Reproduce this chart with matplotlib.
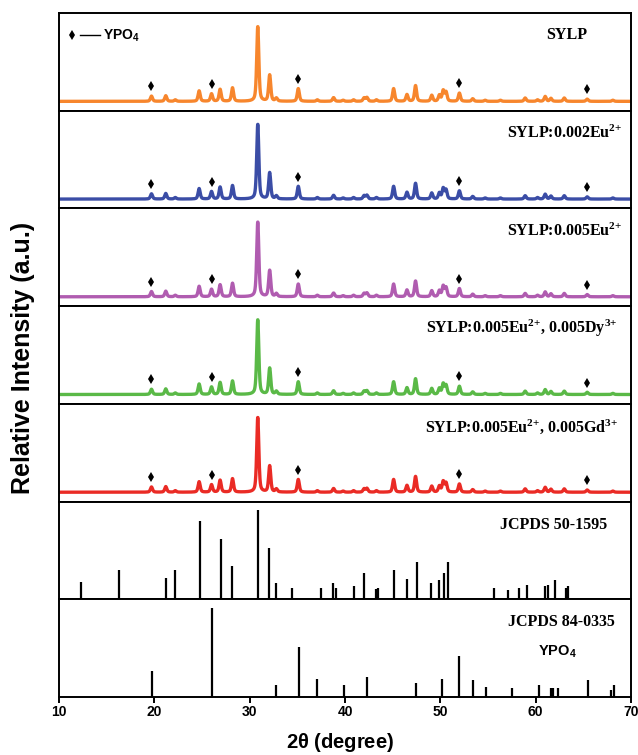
import numpy as np
import matplotlib
matplotlib.use("Agg")
from matplotlib import pyplot as plt

# XRD peak table of the SYLP phosphor (2theta, relative intensity)
peak_pos = [19.7, 21.2, 22.2, 24.7, 26.0, 26.9, 28.2, 30.85, 32.1, 32.8,
            35.1, 37.1, 38.8, 39.8, 40.9, 42.0, 42.3, 43.3, 45.1, 46.5,
            47.4, 49.1, 49.9, 50.3, 50.6, 52.0, 53.4, 54.7, 56.3, 58.9,
            60.2, 61.0, 61.6, 63.0, 65.4, 68.1]
peak_int = [0.07, 0.075, 0.02, 0.14, 0.10, 0.16, 0.18, 1.0, 0.35, 0.04,
            0.17, 0.02, 0.05, 0.015, 0.02, 0.045, 0.05, 0.02, 0.17, 0.09,
            0.21, 0.08, 0.08, 0.14, 0.12, 0.11, 0.035, 0.015, 0.015, 0.045,
            0.02, 0.065, 0.04, 0.045, 0.03, 0.015]

samples = ["SYLP",
           r"SYLP:0.002Eu$^{2{+}}$",
           r"SYLP:0.005Eu$^{2{+}}$",
           r"SYLP:0.005Eu$^{2{+}}$, 0.005Dy$^{3{+}}$",
           r"SYLP:0.005Eu$^{2{+}}$, 0.005Gd$^{3{+}}$"]
sample_colors = ["#f7862d", "#3b4da6", "#b05cb0", "#5ab947", "#ea2b25"]
label_right = [65.4, 69.1, 69.1, 68.6, 68.6]

# YPO4 impurity reflections marked with diamonds
ypo4_marks = [19.7, 26.0, 35.1, 52.0, 65.4]

# JCPDS 50-1595 stick pattern
ref1_pos = [12.3, 16.3, 21.2, 22.2, 24.8, 27.0, 28.1, 30.9, 32.05, 32.8,
            34.4, 37.5, 38.7, 39.1, 40.9, 42.0, 43.2, 43.5, 45.1, 46.5,
            47.5, 49.05, 49.9, 50.4, 50.8, 55.6, 57.1, 58.3, 59.1, 61.0,
            61.3, 62.0, 63.2, 63.4]
ref1_int = [20, 33, 24, 33, 88, 68, 38, 100, 58, 18,
            13, 13, 18, 13, 15, 30, 12, 13, 33, 23,
            42, 18, 22, 30, 42, 13, 10, 13, 16, 15,
            16, 22, 13, 15]

# JCPDS 84-0335 (YPO4) stick pattern
ref2_pos = [19.8, 26.1, 32.8, 35.2, 37.1, 39.9, 42.3, 47.4, 50.2, 52.0,
            53.4, 54.8, 57.5, 60.3, 61.6, 61.85, 62.3, 65.5, 67.9, 68.2]
ref2_int = [29, 100, 13, 56, 20, 14, 23, 16, 20, 46,
            19, 11, 10, 14, 10, 10, 10, 19, 8, 14]


def pattern(tt):
    # pseudo-Voigt profile for every reflection in the table
    y = np.zeros_like(tt)
    w = 0.13
    for p, h in zip(peak_pos, peak_int):
        g = np.exp(-0.5 * ((tt - p) / (w * 0.85)) ** 2)
        l = 1.0 / (1.0 + ((tt - p) / w) ** 2)
        y += h * (0.5 * g + 0.5 * l)
    return y


plt.rcParams['mathtext.fontset'] = 'custom'
plt.rcParams['mathtext.default'] = 'regular'
serif = dict(family='Liberation Serif', weight='bold', size=11.5)
sans = dict(family='Liberation Sans', weight='bold')

fig = plt.figure(figsize=(6.38, 7.55), dpi=100)
n = 7
left, right, bottom, top = 59 / 638, 631 / 638, 58 / 755, 742 / 755
h = (top - bottom) / n
axes = [fig.add_axes([left, top - (i + 1) * h, right - left, h]) for i in range(n)]

tt = np.arange(10, 70.001, 0.02)
curve = pattern(tt)

for i, ax in enumerate(axes[:5]):
    ax.plot(tt, curve, color=sample_colors[i], lw=2.4)
    ym = np.interp(ypo4_marks, tt, curve) + 0.13
    ax.plot(ypo4_marks, ym, 'd', color='black', ms=5, mew=0)
    ax.set_ylim(-0.125, 1.18)
    ax.text(label_right[i], 0.88, samples[i], ha='right', va='center', **serif)

axes[0].plot([11.4], [0.88], 'd', color='black', ms=5, mew=0)
axes[0].plot([12.2, 14.3], [0.88, 0.88], color='black', lw=1.0)
axes[0].text(14.6, 0.88, r"YPO$_{4}$", ha='left', va='center',
             size=10, **sans)

ax = axes[5]
ax.vlines(ref1_pos, 0, ref1_int, color='black', lw=1.6)
ax.set_ylim(0, 110)
ax.text(67.5, 84, "JCPDS 50-1595", ha='right', va='center', **serif)

ax = axes[6]
ax.vlines(ref2_pos, 0, ref2_int, color='black', lw=1.6)
ax.set_ylim(0, 110)
ax.text(68.3, 84, "JCPDS 84-0335", ha='right', va='center', **serif)
ax.text(62.3, 51, r"YPO$_{4}$", ha='center', va='center',
        size=10.5, **sans)

for i, ax in enumerate(axes):
    ax.set_xlim(10, 70)
    ax.set_yticks([])
    for s in ax.spines.values():
        s.set_linewidth(1.4)
    if i < n - 1:
        ax.set_xticks([])

ax = axes[-1]
ax.set_xticks(np.arange(10, 71, 10))
ax.tick_params(axis='x', direction='out', length=4, width=1.4, pad=2, labelsize=10)
for t in ax.get_xticklabels():
    t.set_fontfamily('Liberation Sans')
    t.set_fontweight('bold')

fig.text((left + right) / 2 - 0.008, 0.016, r"2$\theta$ (degree)",
         ha='center', va='center', size=14.5, **sans)
fig.text(0.036, 0.526, "Relative Intensity (a.u.)", rotation=90,
         ha='center', va='center', size=18, **sans)

fig.savefig("out.png", dpi=100)
